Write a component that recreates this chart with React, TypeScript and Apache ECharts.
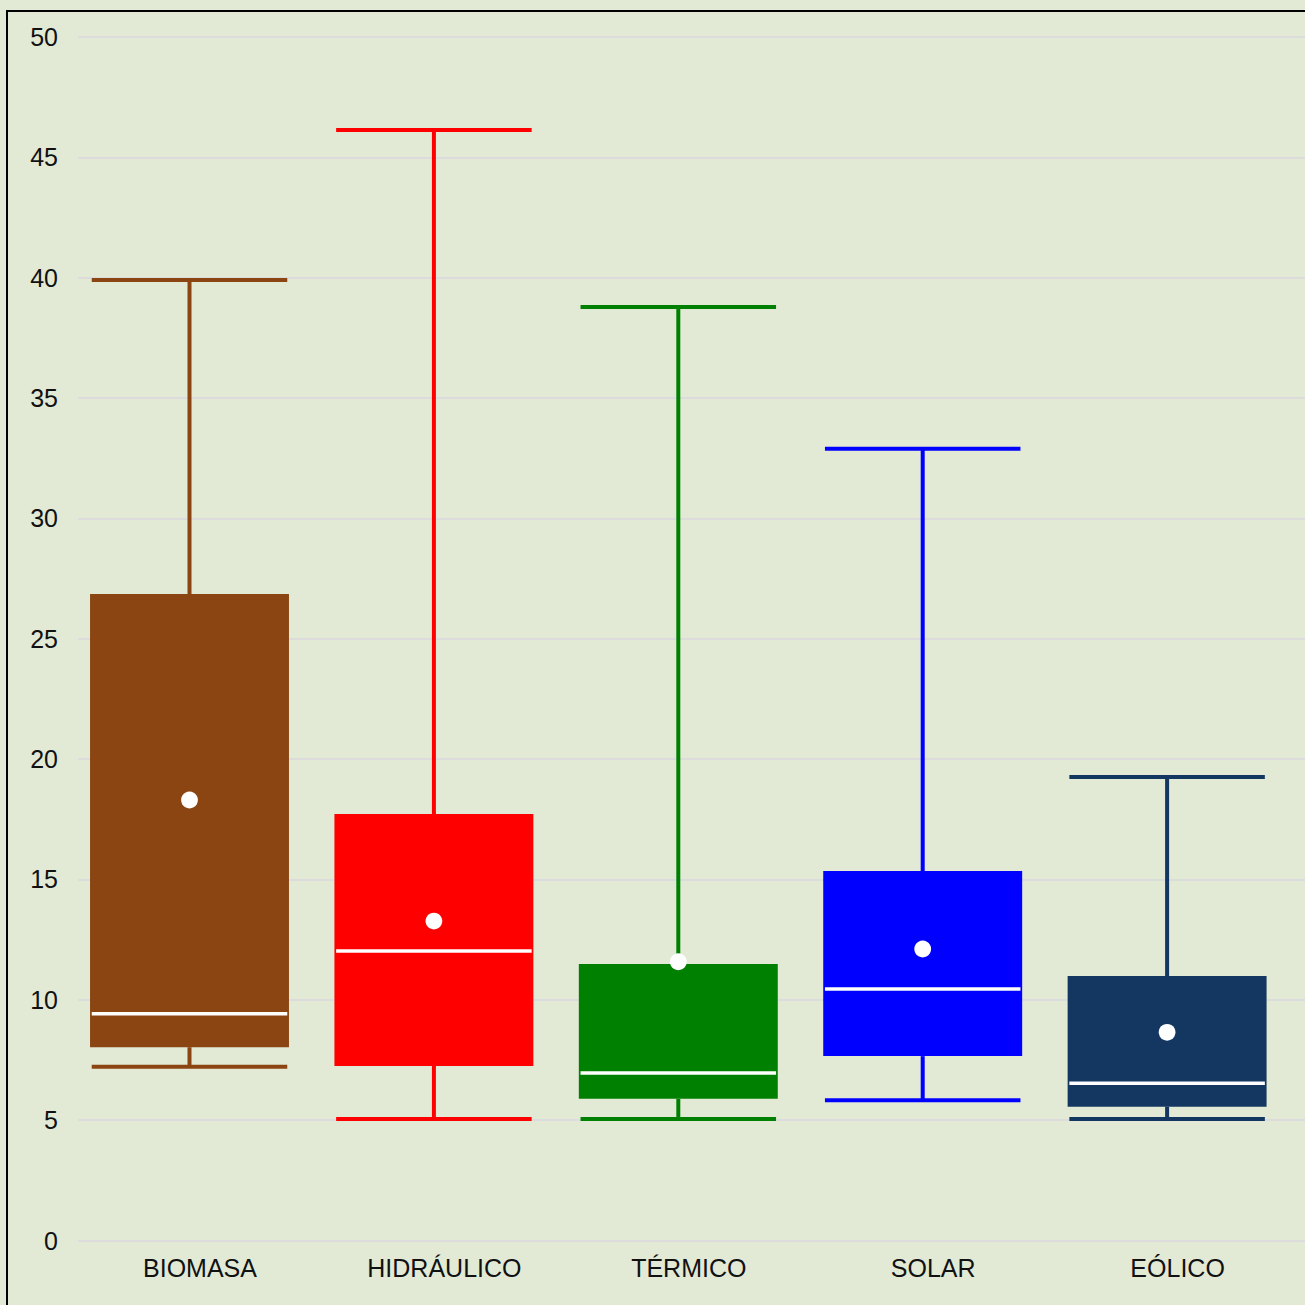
import React, { useEffect, useRef } from "react";
import * as echarts from "echarts";

const categories = ["BIOMASA", "HIDRÁULICO", "TÉRMICO", "SOLAR", "EÓLICO"];
const colors = ["#8B4513", "#FF0000", "#008000", "#0000FF", "#133760"];
const lows = [7.22, 5.05, 5.05, 5.83, 5.05];
const q1s = [8.03, 7.25, 5.89, 7.66, 5.56];
const medians = [9.42, 12.03, 6.96, 10.45, 6.53];
const q3s = [26.86, 17.72, 11.49, 15.35, 10.99];
const highs = [39.9, 46.14, 38.78, 32.89, 19.26];
const means = [18.3, 13.27, 11.58, 12.11, 8.65];
const yTicks = [0, 5, 10, 15, 20, 25, 30, 35, 40, 45, 50];

const BG = "#E2EAD6";

export default function App() {
  const ref = useRef<HTMLDivElement>(null);
  useEffect(() => {
    if (!ref.current) return;
    const chart = echarts.init(ref.current, undefined, { renderer: "svg" });
    const data = categories.map((_, i) => [i, lows[i], q1s[i], medians[i], q3s[i], highs[i], means[i]]);
    const fontFamily = "'Liberation Sans', Arial, sans-serif";
    const top = 25;
    const height = 1203.5;
    chart.setOption({
      animation: false,
      backgroundColor: BG,
      grid: [
        { left: 70, top, height, width: 1300 },
        { left: 59.3, top, height, width: 1222 },
      ],
      xAxis: [
        { gridIndex: 0, type: "value", min: 0, max: 1, show: false },
        {
          gridIndex: 1,
          type: "category",
          data: categories,
          boundaryGap: true,
          axisLine: { show: false },
          axisTick: { show: false },
          splitLine: { show: false },
          axisLabel: {
            fontSize: 25,
            color: "#111111",
            fontFamily,
            margin: 15,
            padding: [0, 0, 0, 21],
          },
        },
      ],
      yAxis: [
        {
          gridIndex: 0,
          type: "value",
          min: yTicks[0],
          max: yTicks[yTicks.length - 1],
          interval: 5,
          axisLine: { show: false },
          axisTick: { show: false },
          axisLabel: { fontSize: 25, color: "#111111", fontFamily, margin: 20 },
          splitLine: { show: true, lineStyle: { color: "#DCDCDC", width: 2 } },
        },
        {
          gridIndex: 1,
          type: "value",
          min: 0,
          max: 50,
          show: false,
          splitLine: { show: false },
        },
      ],
      series: [
        {
          type: "custom",
          xAxisIndex: 1,
          yAxisIndex: 1,
          data,
          renderItem: (params: any, api: any) => {
            const idx = api.value(0);
            const color = colors[idx];
            const band = api.size([1, 0])[0];
            const boxW = band * 0.814;
            const capW = band * 0.8;
            const pLow = api.coord([idx, api.value(1)]);
            const pQ1 = api.coord([idx, api.value(2)]);
            const pMed = api.coord([idx, api.value(3)]);
            const pQ3 = api.coord([idx, api.value(4)]);
            const pHigh = api.coord([idx, api.value(5)]);
            const pMean = api.coord([idx, api.value(6)]);
            const cx = pLow[0];
            const lw = 4;
            return {
              type: "group",
              children: [
                {
                  type: "line",
                  shape: { x1: cx, y1: pHigh[1], x2: cx, y2: pQ3[1] },
                  style: { stroke: color, lineWidth: lw },
                },
                {
                  type: "line",
                  shape: { x1: cx, y1: pQ1[1], x2: cx, y2: pLow[1] },
                  style: { stroke: color, lineWidth: lw },
                },
                {
                  type: "line",
                  shape: { x1: cx - capW / 2, y1: pHigh[1], x2: cx + capW / 2, y2: pHigh[1] },
                  style: { stroke: color, lineWidth: lw },
                },
                {
                  type: "line",
                  shape: { x1: cx - capW / 2, y1: pLow[1], x2: cx + capW / 2, y2: pLow[1] },
                  style: { stroke: color, lineWidth: lw },
                },
                {
                  type: "rect",
                  shape: { x: cx - boxW / 2, y: pQ3[1], width: boxW, height: pQ1[1] - pQ3[1] },
                  style: { fill: color },
                },
                {
                  type: "line",
                  shape: { x1: cx - capW / 2, y1: pMed[1], x2: cx + capW / 2, y2: pMed[1] },
                  style: { stroke: "#FFFFFF", lineWidth: 3.5 },
                },
                {
                  type: "circle",
                  shape: { cx, cy: pMean[1], r: 8.4 },
                  style: { fill: "#FFFFFF" },
                },
              ],
            };
          },
        },
      ],
    });
    return () => chart.dispose();
  }, []);
  return (
    <div style={{ position: "fixed", left: 0, top: 0, width: 1305, height: 1305, background: BG, overflow: "hidden" }}>
      <div
        ref={ref}
        style={{ position: "absolute", left: 6, top: 10, width: 1330, height: 1330, border: "2px solid #000" }}
      />
    </div>
  );
}
